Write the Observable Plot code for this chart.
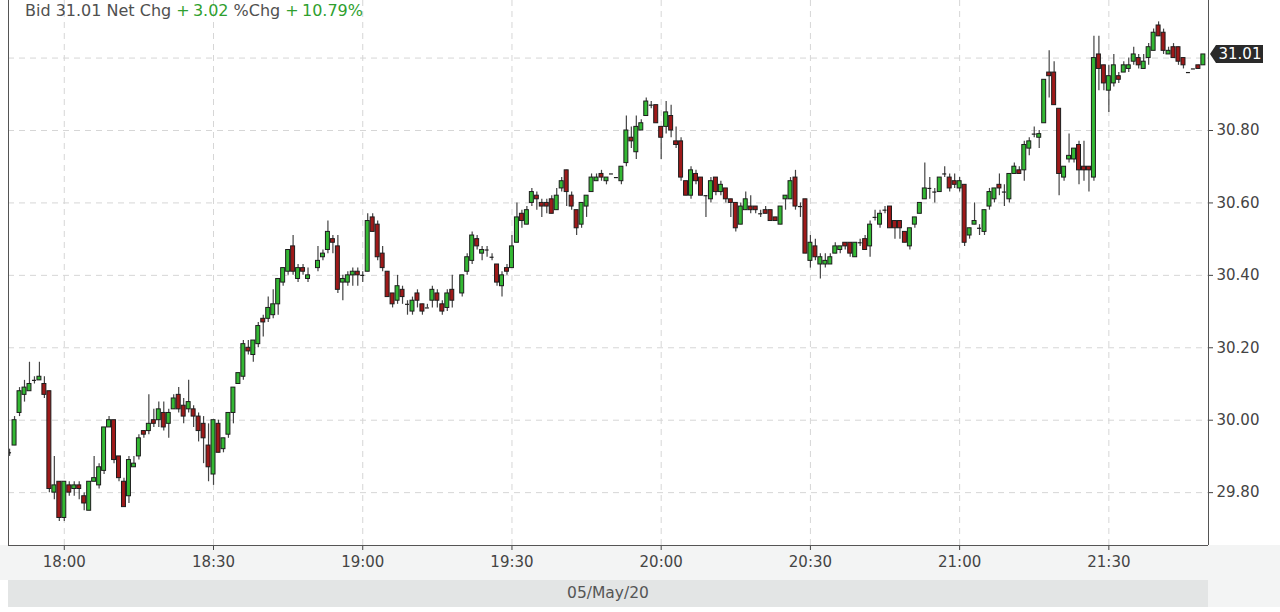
<!DOCTYPE html>
<html><head><meta charset="utf-8">
<script src="https://cdn.jsdelivr.net/npm/d3@7"></script>
<script src="https://cdn.jsdelivr.net/npm/@observablehq/plot@0.6"></script>
<style>
html,body{margin:0;padding:0;background:#fff;}
#wrap{position:relative;width:1280px;height:612px;overflow:hidden;font-family:"DejaVu Sans",sans-serif;}
.band{position:absolute;}
#chart{position:absolute;left:0;top:0;}
#header{position:absolute;left:25px;top:1px;font-size:16px;color:#505050;white-space:pre;}
#header .up{color:#2f9f2f;}
#date{position:absolute;left:8px;width:1200px;top:580px;height:27px;line-height:27px;text-align:center;font-size:15.5px;color:#555;}
</style></head><body>
<div id="wrap">
  <div class="band" style="left:0;top:545px;width:1280px;height:35px;background:#f3f4f4"></div>
  <div class="band" style="left:8px;top:580px;width:1200px;height:27px;background:#e3e5e5"></div>
  <div class="band" style="left:1208px;top:580px;width:72px;height:27px;background:#f3f4f4"></div>
  <div id="chart"></div>
  <div id="date"></div>
  <div id="header"></div>
</div>
<script>
// ---- data (1-minute candles, 05/May/20) ----
const times = [
"17:49","17:50","17:51","17:52","17:53","17:54","17:55","17:56","17:57","17:58","17:59",
"18:00","18:01","18:02","18:03","18:04","18:05","18:06","18:07","18:08","18:09",
"18:10","18:11","18:12","18:13","18:14","18:15","18:16","18:17","18:18","18:19",
"18:20","18:21","18:22","18:23","18:24","18:25","18:26","18:27","18:28","18:29",
"18:30","18:31","18:32","18:33","18:34","18:35","18:36","18:37","18:38","18:39",
"18:40","18:41","18:42","18:43","18:44","18:45","18:46","18:47","18:48","18:49",
"18:51","18:52","18:53","18:54","18:55","18:56","18:57","18:58","18:59",
"19:00","19:01","19:02","19:03","19:04","19:05","19:06","19:07","19:08","19:09",
"19:10","19:11","19:12","19:13","19:14","19:15","19:16","19:17","19:18",
"19:20","19:21","19:22","19:23","19:24","19:25","19:26","19:27","19:28","19:29",
"19:30","19:31","19:32","19:33","19:34","19:35","19:36","19:37","19:38","19:39",
"19:40","19:41","19:42","19:43","19:44","19:45","19:46","19:47","19:48","19:49",
"19:50","19:51","19:52","19:53","19:54","19:55","19:56","19:57","19:58","19:59",
"20:00","20:01","20:02","20:03","20:04","20:05","20:06","20:07","20:08","20:09",
"20:10","20:11","20:12","20:13","20:14","20:15","20:16","20:17","20:18","20:19",
"20:20","20:21","20:22","20:23","20:24","20:25","20:26","20:27","20:28","20:29",
"20:30","20:31","20:32","20:33","20:34","20:35","20:36","20:37","20:38","20:39",
"20:40","20:41","20:42","20:43","20:44","20:45","20:46","20:47","20:48","20:49",
"20:50","20:51","20:52","20:53","20:54","20:55","20:56","20:57","20:58","20:59",
"21:00","21:01","21:02","21:03","21:04","21:05","21:06","21:07","21:08","21:09",
"21:10","21:11","21:12","21:13","21:14","21:15","21:16","21:17","21:18","21:19",
"21:20","21:21","21:22","21:23","21:24","21:25","21:26","21:27","21:28","21:29",
"21:30","21:31","21:32","21:33","21:34","21:35","21:36","21:37","21:38","21:39",
"21:40","21:41","21:42","21:43","21:44","21:45","21:46","21:47","21:48","21:49"
];
const open = [
29.91,29.93,30.02,30.07,30.08,30.11,30.11,30.10,30.08,29.80,29.83,
29.73,29.82,29.81,29.82,29.79,29.75,29.83,29.82,29.86,29.98,
30.00,29.90,29.83,29.79,29.87,29.90,29.97,29.97,30.00,30.00,
30.02,29.99,30.03,30.07,30.04,30.03,30.03,30.01,29.99,29.93,
29.85,29.99,29.92,29.96,30.02,30.10,30.12,30.20,30.18,30.21,
30.28,30.28,30.29,30.32,30.38,30.41,30.48,30.39,30.42,30.39,
30.42,30.45,30.47,30.50,30.48,30.38,30.38,30.40,30.41,
30.40,30.41,30.56,30.54,30.46,30.41,30.35,30.33,30.36,30.32,
30.30,30.35,30.32,30.31,30.33,30.35,30.32,30.31,30.36,
30.35,30.41,30.44,30.50,30.46,30.47,30.45,30.43,30.37,30.42,
30.42,30.49,30.57,30.54,30.60,30.62,30.60,30.60,30.61,30.58,
30.64,30.69,30.62,30.58,30.54,30.59,30.63,30.66,30.68,30.66,
30.68,30.67,30.66,30.71,30.78,30.74,30.80,30.84,30.87,30.87,
30.81,30.81,30.84,30.77,30.77,30.66,30.62,30.68,30.67,30.62,
30.61,30.67,30.63,30.64,30.61,30.60,30.54,30.58,30.59,30.59,
30.57,30.58,30.58,30.56,30.54,30.61,30.61,30.67,30.59,30.61,
30.44,30.48,30.43,30.43,30.43,30.46,30.47,30.49,30.49,30.45,
30.49,30.50,30.48,30.56,30.54,30.58,30.59,30.55,30.55,30.52,
30.48,30.54,30.57,30.61,30.64,30.63,30.63,30.68,30.67,30.66,
30.64,30.65,30.51,30.54,30.53,30.52,30.59,30.61,30.65,30.63,
30.61,30.68,30.69,30.69,30.75,30.79,30.78,30.82,30.96,30.96,
30.86,30.67,30.72,30.72,30.76,30.70,30.70,30.67,31.01,30.98,
30.91,30.93,30.95,30.96,30.97,30.99,31.00,30.97,31.00,31.02,
31.09,31.07,31.01,31.03,31.03,31.00,30.96,30.97,30.98,30.98
];
const high = [
29.92,30.01,30.09,30.11,30.16,30.12,30.16,30.12,30.08,29.90,29.83,
29.83,29.83,29.83,29.83,29.80,29.83,29.90,29.88,29.98,30.01,
30.00,29.90,29.84,29.90,29.90,29.96,29.97,30.07,30.03,30.05,
30.05,30.03,30.07,30.09,30.06,30.11,30.04,30.02,30.01,29.99,
30.00,30.00,29.95,30.02,30.09,30.13,30.22,30.22,30.22,30.27,
30.29,30.34,30.36,30.39,30.42,30.47,30.51,30.43,30.43,30.42,
30.48,30.47,30.55,30.51,30.51,30.40,30.41,30.42,30.42,
30.41,30.57,30.57,30.55,30.48,30.41,30.35,30.40,30.37,30.33,
30.34,30.36,30.32,30.32,30.37,30.36,30.33,30.36,30.40,
30.40,30.46,30.52,30.51,30.48,30.48,30.46,30.43,30.41,30.43,
30.51,30.60,30.58,30.59,30.64,30.63,30.61,30.61,30.62,30.64,
30.67,30.69,30.63,30.58,30.60,30.62,30.68,30.68,30.69,30.67,
30.68,30.67,30.70,30.84,30.81,30.84,30.83,30.89,30.88,30.87,
30.81,30.88,30.87,30.81,30.78,30.66,30.70,30.69,30.67,30.62,
30.67,30.67,30.66,30.64,30.61,30.60,30.60,30.63,30.62,30.59,
30.58,30.59,30.58,30.56,30.59,30.62,30.67,30.69,30.60,30.61,
30.51,30.50,30.46,30.46,30.46,30.49,30.48,30.49,30.49,30.49,
30.50,30.51,30.55,30.58,30.58,30.59,30.59,30.55,30.55,30.52,
30.53,30.56,30.60,30.71,30.67,30.64,30.67,30.70,30.68,30.68,
30.67,30.65,30.53,30.60,30.54,30.58,30.64,30.64,30.68,30.65,
30.68,30.71,30.70,30.77,30.78,30.81,30.80,30.94,31.02,30.99,
30.86,30.70,30.79,30.75,30.77,30.77,30.70,31.06,31.06,30.98,
30.98,31.01,30.96,30.99,31.00,31.03,31.01,31.01,31.04,31.08,
31.10,31.08,31.03,31.04,31.03,31.00,30.96,30.97,30.98,31.01
];
const low = [
29.90,29.93,30.01,30.05,30.08,30.10,30.11,30.06,29.80,29.78,29.72,
29.72,29.79,29.79,29.78,29.75,29.75,29.83,29.81,29.85,29.98,
29.88,29.83,29.76,29.77,29.87,29.89,29.95,29.96,29.98,29.98,
29.97,29.95,30.03,30.02,29.99,30.02,29.98,29.94,29.88,29.83,
29.82,29.91,29.91,29.95,29.99,30.10,30.11,30.18,30.16,30.20,
30.23,30.27,30.28,30.29,30.37,30.40,30.40,30.38,30.40,30.38,
30.41,30.44,30.46,30.46,30.35,30.33,30.37,30.37,30.37,
30.38,30.41,30.52,30.44,30.41,30.34,30.31,30.32,30.32,30.29,
30.29,30.31,30.29,30.31,30.31,30.31,30.29,30.30,30.31,
30.34,30.40,30.43,30.47,30.44,30.45,30.44,30.37,30.34,30.40,
30.42,30.49,30.53,30.54,30.59,30.58,30.56,30.57,30.57,30.58,
30.63,30.59,30.58,30.51,30.53,30.56,30.63,30.66,30.66,30.65,
30.68,30.67,30.65,30.70,30.75,30.72,30.80,30.84,30.86,30.82,
30.72,30.79,30.78,30.75,30.66,30.62,30.61,30.65,30.62,30.56,
30.60,30.62,30.62,30.60,30.56,30.52,30.54,30.58,30.57,30.57,
30.56,30.57,30.55,30.55,30.54,30.58,30.61,30.58,30.56,30.46,
30.42,30.44,30.39,30.42,30.43,30.46,30.46,30.47,30.45,30.45,
30.48,30.47,30.45,30.55,30.53,30.57,30.53,30.50,30.50,30.49,
30.47,30.53,30.57,30.61,30.61,30.60,30.63,30.67,30.63,30.64,
30.63,30.48,30.50,30.54,30.51,30.51,30.58,30.60,30.62,30.59,
30.60,30.68,30.68,30.66,30.73,30.78,30.75,30.82,30.89,30.87,
30.62,30.66,30.71,30.71,30.65,30.66,30.63,30.66,30.91,30.91,
30.85,30.92,30.93,30.96,30.96,30.98,30.97,30.97,30.98,31.02,
31.06,31.01,31.01,31.00,30.98,30.97,30.96,30.97,30.97,30.98
];
const close = [
29.91,30.00,30.08,30.09,30.10,30.11,30.12,30.07,29.81,29.82,29.73,
29.83,29.80,29.82,29.81,29.77,29.83,29.84,29.87,29.98,30.00,
29.89,29.84,29.76,29.89,29.88,29.95,29.96,29.99,29.99,30.03,
29.98,30.02,30.06,30.03,30.01,30.05,30.01,29.97,29.95,29.87,
30.00,29.91,29.95,30.02,30.09,30.13,30.21,30.19,30.22,30.26,
30.27,30.31,30.32,30.39,30.42,30.47,30.41,30.42,30.41,30.40,
30.44,30.46,30.52,30.49,30.36,30.39,30.40,30.41,30.40,
30.40,30.55,30.52,30.45,30.42,30.34,30.32,30.37,30.34,30.32,
30.33,30.33,30.30,30.31,30.36,30.33,30.30,30.35,30.33,
30.40,30.45,30.51,30.48,30.47,30.47,30.45,30.38,30.40,30.41,
30.48,30.56,30.55,30.58,30.63,30.61,30.59,30.59,30.57,30.62,
30.66,30.63,30.59,30.53,30.60,30.62,30.67,30.67,30.67,30.67,
30.68,30.67,30.70,30.80,30.77,30.81,30.82,30.88,30.87,30.82,
30.78,30.85,30.80,30.76,30.67,30.62,30.69,30.66,30.62,30.62,
30.66,30.63,30.65,30.61,30.60,30.53,30.59,30.61,30.58,30.58,
30.57,30.57,30.55,30.55,30.59,30.62,30.66,30.59,30.59,30.46,
30.49,30.45,30.45,30.44,30.45,30.48,30.48,30.48,30.46,30.49,
30.49,30.47,30.54,30.56,30.57,30.58,30.53,30.53,30.53,30.49,
30.53,30.56,30.60,30.64,30.64,30.63,30.67,30.68,30.64,30.65,
30.66,30.49,30.53,30.55,30.53,30.58,30.63,30.64,30.64,30.63,
30.68,30.70,30.68,30.76,30.77,30.79,30.79,30.94,30.95,30.87,
30.68,30.70,30.73,30.75,30.69,30.69,30.69,31.00,30.97,30.93,
30.95,30.98,30.94,30.98,30.98,31.01,30.98,30.99,31.03,31.07,
31.06,31.02,31.02,31.00,30.99,30.98,30.96,30.97,30.97,31.01
];
const xTickLabels = ["18:00","18:30","19:00","19:30","20:00","20:30","21:00","21:30"];
const yTickLabels = [29.80, 30.00, 30.20, 30.40, 30.60, 30.80];
const yGrid = [29.80, 30.00, 30.20, 30.40, 30.60, 30.80, 31.00];
const viewStart = "17:48:47", viewEnd = "21:50:02";
const yDomain = [29.654, 31.159];
const dateLabel = "05/May/20";
const headerParts = [["Bid 31.01 Net Chg ", false], ["+\u20093.02", true], [" %Chg ", false], ["+\u200910.79%", true]];

// ---- build ----
const day = "2020-05-05";
const toDate = t => new Date(`${day}T${t.length === 5 ? t + ":00" : t}Z`);
const candles = times.map((t, i) => ({t: toDate(t), o: open[i], h: high[i], l: low[i], c: close[i]}));
const xDomain = [toDate(viewStart), toDate(viewEnd)];
const half = 0.4 * 60000;
const lft = d => new Date(+d.t - half), rgt = d => new Date(+d.t + half);
const ups = candles.filter(d => d.c > d.o);
const downs = candles.filter(d => d.c < d.o);
const dojis = candles.filter(d => d.c === d.o);
const gridStyle = {stroke: "#d6d6d6", strokeDasharray: "6,5", strokeWidth: 1};

const chart = Plot.plot({
  width: 1280, height: 612,
  marginLeft: 8, marginRight: 72, marginTop: 0, marginBottom: 67,
  style: {background: "transparent", fontFamily: "DejaVu Sans, sans-serif", fontSize: "15px", color: "#444", overflow: "visible"},
  x: {type: "utc", domain: xDomain, ticks: xTickLabels.map(toDate), tickFormat: d3.utcFormat("%H:%M"), tickSize: 5, tickPadding: 6, label: null},
  y: {domain: yDomain, axis: "right", ticks: yTickLabels, tickFormat: d3.format(".2f"), tickSize: 4, tickPadding: 4, label: null},
  marks: [
    Plot.ruleY(yGrid, gridStyle),
    Plot.ruleX(xTickLabels.map(toDate), gridStyle),
    Plot.ruleX(candles, {x: "t", y1: "l", y2: "h", stroke: "#444", strokeWidth: 1.2, clip: true}),
    Plot.rect(ups, {x1: lft, x2: rgt, y1: "o", y2: "c", fill: "#33b833", stroke: "#1d1d1d", strokeWidth: 1, clip: true}),
    Plot.rect(downs, {x1: lft, x2: rgt, y1: "o", y2: "c", fill: "#9e1919", stroke: "#1d1d1d", strokeWidth: 1, clip: true}),
    Plot.ruleY(dojis, {x1: lft, x2: rgt, y: "o", stroke: "#1d1d1d", strokeWidth: 1.2, clip: true}),
    Plot.ruleX(xDomain, {stroke: "#555"}),
    Plot.ruleY([yDomain[0]], {stroke: "#555"})
  ]
});
document.getElementById("chart").appendChild(chart);

// last price marker on the right axis
const last = candles[candles.length - 1];
const ys = chart.scale("y"), xs = chart.scale("x");
const yPix = ys.apply ? ys.apply(last.c) : d3.scaleLinear(ys.domain, ys.range)(last.c);
const xEdge = d3.max(xs.range);
const svg = d3.select(chart);
const g = svg.append("g");
g.append("path")
  .attr("d", `M${xEdge + 2},${yPix} L${xEdge + 8},${yPix - 9} L${xEdge + 55},${yPix - 9} L${xEdge + 55},${yPix + 9} L${xEdge + 8},${yPix + 9} Z`)
  .attr("fill", "#2a2a2a");
g.append("text").attr("x", xEdge + 32).attr("y", yPix).attr("dy", "0.36em")
  .attr("text-anchor", "middle").attr("fill", "#fff").attr("font-size", 15)
  .text(d3.format(".2f")(last.c));

document.getElementById("date").textContent = dateLabel;
const hdr = document.getElementById("header");
headerParts.forEach(([txt, up]) => {
  const s = document.createElement("span");
  s.textContent = txt;
  if (up) s.className = "up";
  hdr.appendChild(s);
});
</script>
</body></html>
